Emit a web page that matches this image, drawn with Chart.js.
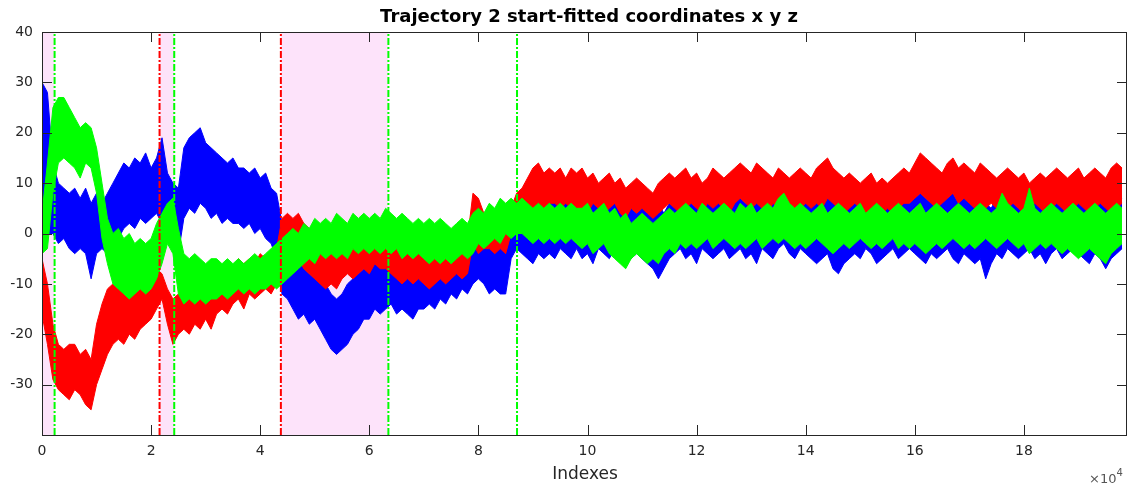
<!DOCTYPE html>
<html>
<head>
<meta charset="utf-8">
<script src="https://cdn.jsdelivr.net/npm/chart.js@4"></script>
<style>
  body { margin: 0; background: #fff; }
  #wrap { width: 1130px; height: 483px; position: relative; }
</style>
</head>
<body>
<div id="wrap"><canvas id="chart"></canvas></div>
<script>
const STEP = 1000;
const X_MAX = 198900;

const xTicks = [0, 20000, 40000, 60000, 80000, 100000, 120000, 140000, 160000, 180000];
const xTickLabels = ["0", "2", "4", "6", "8", "10", "12", "14", "16", "18"];
const yTicks = [-30, -20, -10, 0, 10, 20, 30, 40];

// vertical markers and shaded spans
const markerX = [2310, 21550, 24240, 43790, 63500, 87080, 198900];
const markerKind = ["g", "r", "g", "r", "g", "g", "r"];
const spanStart = [0, 21550, 43790];
const spanEnd = [2310, 24240, 63500];

const blueUpper = [
  30,28,14,10,9,8,9,7,9,6,
  8,6,8,10,12,14,13,15,14,16,
  13,15,19,12,10,9,17,19,20,21,
  18,17,16,15,14,15,13,13,12,13,
  11,12,9,8,2,0,-6,-5,-7,-8,
  -9,-9,-10,-12,-13,-12,-10,-9,-8,-7,
  -6,-5,-6,-4,-5,-6,-7,-6,-7,-6,
  -5,-6,-4,-5,-4,-3,-2,-1,-2,0,
  1,0,-1,0,-1,0,3,3,4,7,
  8,7,9,8,7,8,7,9,8,
  8,7,9,6,8,7,9,8,6,7,
  8,6,7,5,6,4,6,7,8,6,
  7,8,6,7,9,8,7,6,8,7,
  6,8,7,9,8,7,8,9,10,8,
  9,8,7,8,6,7,8,6,5,7,
  6,7,8,6,7,5,6,7,8,7,
  6,7,8,7,6,8,9,7,8,6,
  7,8,9,7,6,5,7,8,9,7,
  8,6,7,8,6,7,8,7,6,7,
  8,6,7,8,9,7,8,9,8,7
];
const blueLower = [
  2,0,0,-2,-1,-3,-4,-3,-4,-9,
  -4,-3,-4,-2,-1,1,2,1,3,2,
  3,4,2,0,-3,-4,3,5,4,6,
  5,3,4,2,3,2,2,1,2,0,
  1,-1,-2,-5,-12,-13,-15,-17,-16,-18,
  -17,-19,-21,-23,-24,-23,-22,-20,-19,-17,
  -17,-15,-16,-15,-14,-16,-15,-16,-17,-15,
  -15,-14,-15,-13,-14,-12,-13,-11,-12,-10,
  -9,-10,-12,-11,-12,-12,-5,-3,-4,-5,
  -6,-4,-5,-4,-5,-3,-4,-5,-3,
  -5,-4,-6,-3,-4,-5,-3,-4,-6,-5,
  -4,-5,-6,-7,-9,-7,-5,-4,-3,-5,
  -4,-6,-3,-4,-5,-4,-3,-5,-4,-3,
  -5,-4,-6,-3,-4,-5,-3,-2,-4,-5,
  -3,-4,-5,-6,-5,-4,-7,-8,-6,-5,
  -4,-5,-3,-4,-6,-5,-4,-3,-5,-4,
  -3,-4,-5,-6,-4,-5,-4,-3,-5,-6,
  -4,-5,-6,-5,-9,-6,-4,-5,-3,-4,
  -5,-4,-3,-5,-4,-6,-4,-3,-5,-4,
  -3,-4,-5,-6,-4,-5,-7,-5,-4,-3
];

const redUpper = [
  -5,-10,-18,-22,-23,-22,-22,-24,-23,-25,
  -18,-14,-11,-10,-11,-9,-10,-11,-9,-8,
  -8,-7,-8,-11,-13,-12,-11,-10,-11,-10,
  -9,-10,-8,-7,-6,-7,-5,-6,-5,-6,
  -4,-5,-4,-3,3,4,3,4,2,1,
  0,-1,-1,0,-1,0,1,0,-1,1,
  0,1,0,-1,-2,-3,-2,-3,-4,-3,
  -4,-3,-4,-2,-3,-4,-3,-2,-1,8,
  7,4,2,1,2,0,5,8,9,11,
  13,14,12,13,12,13,11,13,12,
  13,11,12,10,11,12,10,11,9,10,
  11,10,9,8,10,11,12,11,12,13,
  11,12,10,11,13,12,11,12,13,14,
  13,12,14,13,12,11,13,12,11,12,
  13,12,11,13,14,15,13,12,11,12,
  11,10,11,12,10,11,10,11,12,13,
  12,14,16,15,14,13,12,14,15,13,
  14,13,12,14,13,12,11,12,13,12,
  11,12,10,11,12,11,12,13,12,11,
  12,13,11,12,13,12,11,13,14,13
];
const redLower = [
  -16,-22,-29,-31,-32,-33,-31,-32,-34,-35,
  -30,-27,-24,-22,-21,-22,-20,-21,-19,-18,
  -17,-15,-13,-18,-22,-20,-19,-20,-18,-19,
  -17,-19,-16,-15,-16,-14,-13,-15,-12,-13,
  -12,-11,-12,-10,-6,-5,-6,-5,-7,-8,
  -9,-10,-11,-10,-11,-9,-8,-9,-8,-7,
  -8,-6,-7,-7,-8,-9,-10,-9,-10,-9,
  -10,-11,-10,-9,-10,-9,-8,-9,-8,-2,
  -4,-3,-3,-4,-3,-4,0,2,2,4,
  5,6,5,6,6,5,6,5,5,
  5,4,6,5,4,5,6,4,3,5,
  4,5,4,3,4,5,6,5,4,5,
  6,5,4,6,5,6,5,4,6,7,
  6,5,6,5,4,6,5,6,5,4,
  5,6,5,6,5,7,6,5,4,5,
  6,5,4,5,6,4,5,4,5,6,
  6,7,8,7,6,5,6,7,8,6,
  7,6,5,6,5,6,5,4,5,6,
  5,4,5,6,5,4,5,6,5,4,
  5,6,5,4,5,6,5,4,5,6
];

const greenUpper = [
  4,14,25,27,27,25,23,21,22,21,
  17,10,3,0,1,-1,0,-2,-1,-2,
  -1,2,4,6,7,1,-4,-5,-4,-5,
  -6,-5,-5,-6,-5,-6,-5,-6,-5,-4,
  -5,-4,-3,-2,-1,0,1,0,2,1,
  3,2,3,2,4,3,2,4,3,4,
  3,4,3,5,4,3,4,3,2,3,
  2,3,2,3,2,1,2,3,2,4,
  5,4,6,5,7,6,7,6,7,6,
  5,6,5,6,5,6,5,6,5,
  5,6,4,5,6,4,5,3,4,2,
  3,4,3,2,3,4,5,4,5,6,
  5,4,6,5,4,5,6,5,4,6,
  5,6,4,5,6,5,7,8,6,5,
  6,5,4,5,6,4,5,6,5,4,
  5,6,4,5,6,5,4,5,6,5,
  4,5,6,4,5,6,5,4,5,6,
  5,4,5,6,5,4,5,8,6,5,
  4,5,9,5,4,5,6,5,4,5,
  6,5,4,5,6,5,4,5,6,5
];
const greenLower = [
  -4,-3,8,14,15,14,13,11,14,13,
  8,-1,-6,-10,-11,-12,-13,-12,-11,-12,
  -11,-9,-6,-2,-4,-12,-14,-13,-14,-13,
  -14,-13,-13,-12,-13,-12,-11,-12,-11,-12,
  -11,-11,-10,-11,-10,-9,-8,-7,-6,-5,
  -6,-4,-5,-4,-5,-4,-5,-3,-4,-3,
  -4,-3,-4,-3,-4,-3,-5,-4,-5,-4,
  -5,-6,-5,-6,-5,-6,-5,-4,-5,-4,
  -2,-3,-2,-1,-2,0,-1,0,0,-1,
  -2,-1,-2,-1,-2,-1,-2,-1,-2,
  -3,-2,-4,-3,-2,-4,-5,-6,-7,-5,
  -4,-5,-6,-5,-6,-4,-3,-4,-2,-3,
  -2,-3,-2,-1,-3,-2,-1,-2,-3,-2,
  -3,-2,-1,-3,-2,-1,-2,-1,-2,-3,
  -2,-3,-2,-1,-2,-3,-4,-3,-2,-3,
  -2,-1,-2,-3,-2,-3,-2,-1,-3,-2,
  -3,-2,-3,-4,-3,-2,-3,-2,-1,-2,
  -3,-2,-3,-2,-1,-2,-3,-2,-1,-2,
  -3,-2,-4,-3,-2,-3,-2,-3,-4,-3,
  -4,-5,-4,-3,-4,-5,-6,-4,-3,-2
];

const BLUE = "#0000ff";
const RED = "#ff0000";
const GREEN = "#00ff00";
const PINK = "rgb(253, 227, 250)";
const AXIS = "#262626";

function toPoints(values) {
  return values.map((v, i) => ({ x: i * STEP, y: v }));
}

function trace(upper, lower, color, order) {
  return [
    { data: toPoints(upper), borderColor: color, backgroundColor: color, borderWidth: 1, fill: "+1", order: order },
    { data: toPoints(lower), borderColor: color, borderWidth: 1, fill: false, order: order },
  ];
}

const datasets = [];
spanStart.forEach((s, i) => {
  datasets.push({
    data: [{ x: s, y: 40 }, { x: spanEnd[i], y: 40 }],
    borderWidth: 0,
    backgroundColor: PINK,
    fill: "start",
    order: 10,
  });
});
datasets.push(...trace(blueUpper, blueLower, BLUE, 6));
datasets.push(...trace(redUpper, redLower, RED, 5));
datasets.push(...trace(greenUpper, greenLower, GREEN, 4));
markerX.forEach((x, i) => {
  datasets.push({
    data: [{ x: x, y: -40 }, { x: x, y: 40 }],
    borderColor: markerKind[i] === "r" ? RED : GREEN,
    borderWidth: 2,
    borderDash: [7, 2, 2, 2],
    fill: false,
    order: 1,
  });
});

// axes box, inward ticks, title and labels
const decor = {
  id: "decor",
  afterDraw(chart) {
    const ctx = chart.ctx;
    const a = chart.chartArea;
    const xs = chart.scales.x;
    const ys = chart.scales.y;
    const tl = 10;
    ctx.save();
    ctx.strokeStyle = AXIS;
    ctx.lineWidth = 1;
    ctx.strokeRect(a.left + 0.5, a.top + 0.5, a.right - a.left - 1, a.bottom - a.top);
    ctx.beginPath();
    xTicks.forEach((v) => {
      const px = Math.round(xs.getPixelForValue(v)) + 0.5;
      ctx.moveTo(px, a.bottom);
      ctx.lineTo(px, a.bottom - tl);
      ctx.moveTo(px, a.top);
      ctx.lineTo(px, a.top + tl);
    });
    yTicks.forEach((v) => {
      const py = Math.round(ys.getPixelForValue(v)) + 0.5;
      ctx.moveTo(a.left, py);
      ctx.lineTo(a.left + tl, py);
      ctx.moveTo(a.right, py);
      ctx.lineTo(a.right - tl, py);
    });
    ctx.stroke();

    ctx.fillStyle = "#000";
    ctx.textAlign = "center";
    ctx.textBaseline = "alphabetic";
    ctx.font = "bold 18px 'DejaVu Sans'";
    ctx.fillText("Trajectory 2 start-fitted coordinates x y z", 589, 22);

    ctx.fillStyle = AXIS;
    ctx.font = "17px 'DejaVu Sans'";
    ctx.fillText("Indexes", 585, 479);

    ctx.fillStyle = "#555";
    ctx.textAlign = "left";
    ctx.font = "13px 'DejaVu Sans'";
    ctx.fillText("\u00d710", 1089, 483);
    const w = ctx.measureText("\u00d710").width;
    ctx.font = "10px 'DejaVu Sans'";
    ctx.fillText("4", 1089 + w, 476);
    ctx.restore();
  },
};

Chart.defaults.font.family = "'DejaVu Sans'";

new Chart(document.getElementById("chart"), {
  type: "line",
  data: { datasets: datasets },
  options: {
    responsive: true,
    maintainAspectRatio: false,
    animation: false,
    layout: { padding: { top: 32, right: 3, left: 0, bottom: 0 } },
    elements: { point: { radius: 0 }, line: { tension: 0 } },
    plugins: { legend: { display: false }, tooltip: { enabled: false }, title: { display: false } },
    scales: {
      x: {
        type: "linear",
        min: 0,
        max: X_MAX,
        grid: { display: false },
        border: { display: false },
        afterBuildTicks: (scale) => {
          scale.ticks = xTicks.map((v) => ({ value: v }));
        },
        afterFit: (scale) => {
          scale.height = 48;
        },
        ticks: {
          padding: 0,
          maxRotation: 0,
          color: AXIS,
          font: { size: 14 },
          callback: (v) => xTickLabels[xTicks.indexOf(v)],
        },
      },
      y: {
        min: -40,
        max: 40,
        grid: { display: false },
        border: { display: false },
        afterBuildTicks: (scale) => {
          scale.ticks = yTicks.map((v) => ({ value: v }));
        },
        afterFit: (scale) => {
          scale.width = 42;
        },
        ticks: {
          padding: 1,
          color: AXIS,
          font: { size: 14 },
        },
      },
    },
  },
  plugins: [decor],
});
</script>
</body>
</html>
